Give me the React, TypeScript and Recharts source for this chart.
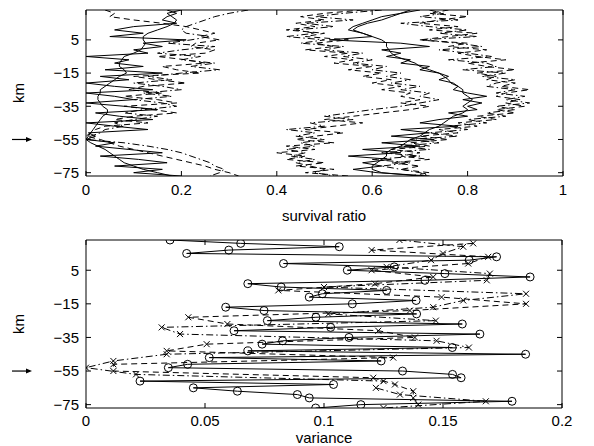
import React from 'react';
import { ScatterChart, Scatter, XAxis, YAxis, ReferenceLine, ReferenceArea } from 'recharts';

// depth levels (km), 2 km spacing
const depths = [23,21,19,17,15,13,11,9,7,5,3,1,-1,-3,-5,-7,-9,-11,-13,-15,-17,-19,-21,-23,-25,-27,-29,-31,-33,-35,-37,-39,-41,-43,-45,-47,-49,-51,-53,-55,-57,-59,-61,-63,-65,-67,-69,-71,-73,-75,-77];
const depthsA = [23,19,15,11,7,3,-1,-5,-9,-13,-17,-21,-25,-29,-33,-37,-41,-45,-49,-53,-57,-61,-65,-69,-73,-77];
const depthsB = [21,17,13,9,5,1,-3,-7,-11,-15,-19,-23,-27,-31,-35,-39,-43,-47,-51,-55,-59,-63,-67,-71,-75];

// ---- top panel: survival ratio ----
const leftMean = [.20,.17,.18,.19,.185,.17,.15,.13,.12,.12,.125,.12,.115,.10,.08,.075,.07,.07,.08,.085,.07,.06,.05,.04,.03,.03,.025,.025,.03,.035,.045,.045,.035,.03,.025,.02,.015,.01,.005,0,.01,.025,.04,.05,.06,.07,.08,.10,.12,.15,.18];
const leftJag = [.17,.19,.17,.16,.19,.10,.06,.12,.05,.21,.12,.16,.10,.13,0,.09,.06,.12,.04,.16,.03,.09,0,.06,.14,0,.06,.10,0,.08,.15,.02,.07,.14,0,.06,.13,.005,.02,0,.06,.02,.09,.16,.03,.11,.17,.06,.16,.10,.20];
const leftDashDot = [.34,.30,.27,.25,.23,.21,.20,.21,.26,.22,.17,.27,.20,.15,.24,.20,.27,.22,.28,.20,.13,.18,.10,.16,.20,.12,.18,.10,.16,.19,.12,.08,.15,.10,.06,.08,.04,.03,.01,0,.08,.13,.17,.20,.22,.24,.26,.27,.29,.28,.26];
const leftDash = [.04,.06,.05,.10,.16,.21,.24,.27,.24,.28,.23,.22,.27,.25,.15,.21,.25,.16,.19,.24,.10,.15,.21,.12,.09,.16,.08,.15,.19,.08,.14,.19,.10,.06,.13,.04,.02,.01,0,.03,.05,.07,.10,.13,.16,.19,.22,.25,.27,.30,.32];
const rightMean = [.68,.66,.64,.62,.59,.57,.56,.58,.60,.62,.63,.63,.635,.64,.65,.67,.69,.70,.72,.74,.75,.76,.765,.78,.79,.79,.80,.81,.80,.79,.80,.79,.77,.76,.75,.74,.72,.71,.70,.68,.67,.66,.64,.63,.63,.62,.61,.60,.60,.62,.70];
const rightJag = [.70,.66,.62,.60,.58,.56,.55,.58,.60,.51,.66,.72,.62,.66,.63,.68,.66,.72,.70,.74,.76,.74,.77,.78,.77,.80,.84,.79,.83,.80,.82,.76,.80,.74,.70,.78,.66,.72,.64,.73,.62,.70,.58,.66,.55,.64,.58,.62,.56,.61,.72];
const rightOuterDashDot = [.72,.75,.70,.78,.66,.72,.80,.74,.82,.70,.78,.83,.74,.80,.85,.76,.84,.86,.79,.88,.83,.90,.86,.84,.90,.86,.92,.88,.93,.86,.90,.84,.88,.80,.84,.76,.80,.72,.78,.68,.74,.66,.72,.62,.70,.60,.68,.62,.66,.70,.72];
const rightOuterDash = [.76,.72,.80,.74,.70,.78,.72,.82,.76,.70,.80,.76,.84,.78,.82,.88,.80,.84,.90,.82,.86,.84,.90,.87,.93,.88,.86,.91,.88,.92,.86,.90,.82,.86,.78,.82,.74,.78,.70,.76,.68,.72,.64,.70,.66,.72,.64,.70,.66,.72,.68];
const rightInnerDash = [.58,.50,.45,.50,.44,.48,.42,.50,.46,.55,.48,.52,.46,.55,.50,.56,.52,.60,.55,.62,.58,.64,.60,.66,.62,.68,.66,.70,.66,.72,.68,.62,.56,.50,.58,.52,.46,.54,.48,.44,.52,.42,.48,.40,.46,.42,.50,.44,.52,.46,.55];
const rightInnerDashDot = [.62,.54,.48,.56,.46,.52,.44,.48,.42,.50,.45,.54,.50,.58,.54,.60,.56,.63,.60,.66,.63,.68,.64,.70,.66,.72,.70,.74,.70,.66,.60,.55,.50,.56,.47,.50,.42,.48,.44,.50,.45,.48,.42,.46,.43,.48,.44,.47,.50,.48,.52];

// ---- bottom panel: variance ----
const varCircles = [.0353,.065,.1064,.060,.0423,.1725,.161,.083,.1295,.1098,.1508,.1866,.1424,.068,.082,.1263,.0993,.0938,.1387,.1119,.0587,.0748,.1389,.0966,.0762,.1581,.1028,.0622,.1655,.1105,.0826,.074,.1539,.068,.1847,.0518,.124,.0427,.0346,.133,.154,.1576,.0227,.104,.0451,.0636,.0888,.0938,.179,.1155,.0965];
const varCrossA = [.1317,.1585,.150,.145,.1263,.1697,.1684,.10,.1849,.1585,.1459,.1018,.147,.0318,.0395,.1473,.1609,.0339,.0115,0,.021,.125,.1218,.1319,.168,.125];
const varCrossB = [.1627,.12,.169,.1606,.12,.1459,.1214,.0808,.1494,.1849,.1361,.043,.0594,.1228,.1382,.0507,.0339,.1291,.0115,.0115,.1207,.1298,.1375,.1375,.1396];

const topXTicks = [0, 0.2, 0.4, 0.6, 0.8, 1];
const botXTicks = [0, 0.05, 0.1, 0.15, 0.2];
const yTicks = [5, -15, -35, -55, -75];
const yDomain: [number, number] = [-77, 23];

const mk = (vals: number[], ds: number[]) => vals.map((v, i) => ({ x: v, y: ds[i] }));

const FONT = '"Liberation Sans", Arial, Helvetica, sans-serif';
const DASH = '6 4';
const DASHDOT = '7 3 1.5 3';

const NoDot = () => <g />;
const Ring = (p: any) => <circle cx={p.cx} cy={p.cy} r={4} fill="none" stroke="#000" strokeWidth={1} />;
const Cross = (p: any) => (
  <path d={`M${p.cx - 3},${p.cy - 3}L${p.cx + 3},${p.cy + 3}M${p.cx - 3},${p.cy + 3}L${p.cx + 3},${p.cy - 3}`} stroke="#000" strokeWidth={1} fill="none" />
);

const fmtY = (v: number) => (v < 0 ? '\u2212' + Math.abs(v) : String(v));
const fmtX = (v: number) => String(v);

const Arrow = (p: any) => {
  const y = p.y1;
  const xe = p.x1 - 54;
  const xs = p.x1 - 74;
  return (
    <g>
      <line x1={xs} y1={y} x2={xe - 4} y2={y} stroke="#000" strokeWidth={1.2} />
      <polygon points={`${xe},${y} ${xe - 6},${y - 2.5} ${xe - 6},${y + 2.5}`} fill="#000" />
    </g>
  );
};

// inward tick mark drawn from the reference-line end point
const TickMark = (dx: number, dy: number) => (p: any) => (
  <line x1={p.x1} y1={p.y1} x2={p.x1 + dx} y2={p.y1 + dy} stroke="#000" strokeWidth={1} />
);

const tickStyle = { fontSize: 15, fill: '#000', fontFamily: FONT };

const KmLabel = (cy: number) => () => (
  <text x={18} y={cy} transform={`rotate(-90 18 ${cy})`} textAnchor="middle" dominantBaseline="central" fontSize={15} fontFamily={FONT} fill="#000">km</text>
);
const XLabel = (text: string, cx: number, cy: number) => () => (
  <text x={cx} y={cy} textAnchor="middle" dominantBaseline="central" fontSize={15} fontFamily={FONT} fill="#000">{text}</text>
);

const line = (dash?: string) => ({ stroke: '#000', strokeWidth: 1, strokeDasharray: dash, fill: 'none' });

function boxAndTicks(xDomain: [number, number], xTicks: number[]) {
  const [x0, x1] = xDomain;
  const [y0, y1] = yDomain;
  const els: any[] = [];
  els.push(<ReferenceArea key="box" x1={x0} x2={x1} y1={y0} y2={y1} fill="none" stroke="#000" strokeWidth={1} fillOpacity={0} ifOverflow="visible" />);
  xTicks.forEach((t, i) => {
    els.push(<ReferenceLine key={'xb' + i} segment={[{ x: t, y: y0 }, { x: t, y: y1 }]} stroke="none" ifOverflow="visible" shape={TickMark(0, -5)} />);
    els.push(<ReferenceLine key={'xt' + i} segment={[{ x: t, y: y1 }, { x: t, y: y0 }]} stroke="none" ifOverflow="visible" shape={TickMark(0, 5)} />);
  });
  yTicks.forEach((t, i) => {
    els.push(<ReferenceLine key={'yl' + i} segment={[{ x: x0, y: t }, { x: x1, y: t }]} stroke="none" ifOverflow="visible" shape={TickMark(5, 0)} />);
    els.push(<ReferenceLine key={'yr' + i} segment={[{ x: x1, y: t }, { x: x0, y: t }]} stroke="none" ifOverflow="visible" shape={TickMark(-5, 0)} />);
  });
  return els;
}

export default function App() {
  const topSeries = [
    { d: mk(leftMean, depths), dash: undefined },
    { d: mk(leftJag, depths), dash: undefined },
    { d: mk(leftDashDot, depths), dash: DASHDOT },
    { d: mk(leftDash, depths), dash: DASH },
    { d: mk(rightMean, depths), dash: undefined },
    { d: mk(rightJag, depths), dash: undefined },
    { d: mk(rightOuterDashDot, depths), dash: DASHDOT },
    { d: mk(rightOuterDash, depths), dash: DASH },
    { d: mk(rightInnerDash, depths), dash: DASH },
    { d: mk(rightInnerDashDot, depths), dash: DASHDOT },
  ];
  return (
    <div style={{ position: 'absolute', left: 0, top: 0, width: 594, height: 446, background: '#fff' }}>
      <div style={{ position: 'absolute', left: 0, top: 0 }}>
        <ScatterChart width={594} height={225} margin={{ top: 10, right: 31, bottom: 0, left: 26 }} style={{ fontFamily: FONT }}>
          <XAxis type="number" dataKey="x" domain={[0, 1]} ticks={topXTicks} tickFormatter={fmtX} allowDataOverflow
            height={49} axisLine={false} tickLine={false} tickSize={0} tickMargin={8} tick={tickStyle} interval={0}
            label={XLabel('survival ratio', 324, 215)} />
          <YAxis type="number" dataKey="y" domain={yDomain} ticks={yTicks} tickFormatter={fmtY} allowDataOverflow
            width={60} axisLine={false} tickLine={false} tickSize={0} tickMargin={7} tick={tickStyle} interval={0}
            label={KmLabel(93)} />
          {topSeries.map((s, i) => (
            <Scatter key={i} data={s.d} fill="#000" line={line(s.dash)} lineType="joint" shape={NoDot} isAnimationActive={false} />
          ))}
          {boxAndTicks([0, 1], topXTicks)}
          <ReferenceLine y={-55} stroke="none" shape={Arrow} ifOverflow="visible" />
        </ScatterChart>
      </div>
      <div style={{ position: 'absolute', left: 0, top: 225 }}>
        <ScatterChart width={594} height={221} margin={{ top: 15, right: 32, bottom: 0, left: 26 }} style={{ fontFamily: FONT }}>
          <XAxis type="number" dataKey="x" domain={[0, 0.2]} ticks={botXTicks} tickFormatter={fmtX} allowDataOverflow
            height={38} axisLine={false} tickLine={false} tickSize={0} tickMargin={7} tick={tickStyle} interval={0}
            label={XLabel('variance', 324, 212)} />
          <YAxis type="number" dataKey="y" domain={yDomain} ticks={yTicks} tickFormatter={fmtY} allowDataOverflow
            width={60} axisLine={false} tickLine={false} tickSize={0} tickMargin={7} tick={tickStyle} interval={0}
            label={KmLabel(99)} />
          <Scatter data={mk(varCrossA, depthsA)} fill="#000" line={line(DASHDOT)} lineType="joint" shape={Cross} isAnimationActive={false} />
          <Scatter data={mk(varCrossB, depthsB)} fill="#000" line={line(DASH)} lineType="joint" shape={Cross} isAnimationActive={false} />
          <Scatter data={mk(varCircles, depths)} fill="#000" line={line(undefined)} lineType="joint" shape={Ring} isAnimationActive={false} />
          {boxAndTicks([0, 0.2], botXTicks)}
          <ReferenceLine y={-55} stroke="none" shape={Arrow} ifOverflow="visible" />
        </ScatterChart>
      </div>
    </div>
  );
}
